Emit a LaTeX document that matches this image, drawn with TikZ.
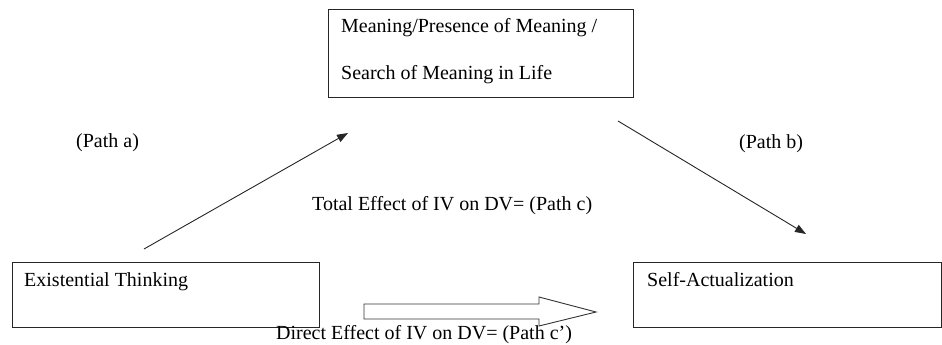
\documentclass[tikz,border=0pt]{standalone}
\usepackage{fontspec}
\setmainfont{Liberation Serif}
\usetikzlibrary{arrows.meta}
\begin{document}
\begin{tikzpicture}[x=1pt,y=-1pt,
  box/.style={draw=black!85, line width=0.9pt, rectangle},
  lbl/.style={font=\fontsize{20}{24}\selectfont, inner sep=0pt, anchor=base west, text=black},
  conn/.style={draw=black!85, line width=0.9pt, -{Triangle[length=11pt,width=8pt]}}]
\useasboundingbox (0,0) rectangle (942,345);
% boxes
\draw[box] (328,9) rectangle (633,97);
\draw[box] (12,262) rectangle (319,327);
\draw[box] (633,262) rectangle (941,327);
\node (m1) [lbl] at (341,33) {Meaning/Presence of Meaning /};
\node (m2) [lbl] at (341,80) {Search of Meaning in Life};
\node (x) [lbl] at (24,286) {Existential Thinking};
\node (y) [lbl] at (647,286) {Self-Actualization};
\node (pa) [lbl] at (76,147) {(Path a)};
\node (pb) [lbl] at (739,148) {(Path b)};
\node (tot) [lbl] at (312,210) {Total Effect of IV on DV= (Path c)};
% connectors
\coordinate (a1) at (144,249);
\coordinate (a2) at (348,133);
\coordinate (b1) at (618,121);
\coordinate (b2) at (806,234);
\draw[conn] (a1) -- (a2);
\draw[conn] (b1) -- (b2);
% block arrow
\draw[draw=black!80, line width=0.9pt, fill=white, line join=miter]
  (364,304) -- (539,304) -- (539,297) -- (596,312) -- (539,326) -- (539,319) -- (364,319) -- cycle;
\node (dir) [lbl] at (276,339) {Direct Effect of IV on DV= (Path c’)};
\end{tikzpicture}
\end{document}
